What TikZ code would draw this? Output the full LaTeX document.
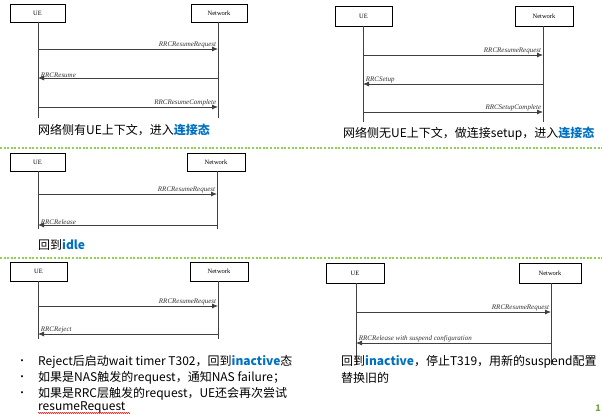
\documentclass[tikz,border=0pt]{standalone}
\usepackage{fontspec}
\newfontfamily\cjk{Noto Sans CJK SC}
\newfontfamily\tms{Liberation Serif}
\usetikzlibrary{arrows.meta,decorations.pathmorphing}
\definecolor{hl}{RGB}{0,112,192}
\definecolor{grn}{RGB}{146,208,80}
\begin{document}
\begin{tikzpicture}[x=1pt,y=-1pt,
 ent/.style={draw,line width=0.6pt,minimum height=18pt,inner sep=0pt,font=\tms\fontsize{6.5}{7}\selectfont},
 life/.style={line width=0.8pt,black!75},
 msg/.style={line width=0.8pt,black!75,-{Latex[length=6pt,width=5pt]}},
 ml/.style={font=\tms\fontsize{7}{8}\selectfont\itshape,inner sep=0.5pt,text=black!80},
 mr/.style={ml,pos=1,anchor=south east,xshift=-1pt},
 mlft/.style={ml,pos=1,anchor=south west,xshift=2pt},
 txt/.style={font=\cjk\fontsize{12}{13}\selectfont,anchor=west,inner sep=0pt},
 sep/.style={grn,line width=2pt,dash pattern=on 2pt off 1.6pt}]
\useasboundingbox (0,0) rectangle (602,413);
\newcommand\hb[1]{\textcolor{hl}{\bfseries #1}}
% panel 1
\node[ent,minimum width=55pt] (ue1) at (37.5,13) {UE};
\node[ent,minimum width=56pt] (nw1) at (219,13) {Network};
\coordinate (ue1e) at (38,118); \coordinate (nw1e) at (218,118);
\draw[life] (38,22) -- (ue1e); \draw[life] (218,22) -- (nw1e);
\coordinate (a1) at (38,49); \coordinate (b1) at (218,49);
\coordinate (a2) at (38,78); \coordinate (b2) at (218,78);
\coordinate (a3) at (38,107); \coordinate (b3) at (218,107);
\draw[msg] (a1) -- node[mr]{RRCResumeRequest} (b1);
\draw[msg] (b2) -- node[mlft]{RRCResume} (a2);
\draw[msg] (a3) -- node[mr]{RRCResumeComplete} (b3);
\node[txt] (t1) at (38,130) {网络侧有UE上下文，进入\hb{连接态}};
% panel 2
\node[ent,minimum width=57pt,minimum height=20pt] (ue2) at (363.5,16) {UE};
\node[ent,minimum width=58pt,minimum height=20pt] (nw2) at (544,16) {Network};
\coordinate (ue2e) at (363,122); \coordinate (nw2e) at (543,122);
\draw[life] (363,26) -- (ue2e); \draw[life] (543,26) -- (nw2e);
\coordinate (c1) at (363,55); \coordinate (d1) at (543,55);
\coordinate (c2) at (363,84); \coordinate (d2) at (543,84);
\coordinate (c3) at (363,112); \coordinate (d3) at (543,112);
\draw[msg] (c1) -- node[mr]{RRCResumeRequest} (d1);
\draw[msg] (d2) -- node[mlft]{RRCSetup} (c2);
\draw[msg] (c3) -- node[mr]{RRCSetupComplete} (d3);
\node[txt] (t2) at (343,134) {网络侧无UE上下文，做连接setup，进入\hb{连接态}};
\draw[sep] (0,148) -- (602,148);
% panel 3
\node[ent,minimum width=55pt] (ue3) at (37.5,162) {UE};
\node[ent,minimum width=58pt] (nw3) at (216,162) {Network};
\coordinate (ue3e) at (38,229); \coordinate (nw3e) at (217,229);
\draw[life] (38,171) -- (ue3e); \draw[life] (217,171) -- (nw3e);
\coordinate (e1) at (38,194); \coordinate (f1) at (217,194);
\coordinate (e2) at (38,225); \coordinate (f2) at (217,225);
\draw[msg] (e1) -- node[mr]{RRCResumeRequest} (f1);
\draw[msg] (f2) -- node[mlft]{RRCRelease} (e2);
\node[txt] (t3) at (38,245) {回到\hb{idle}};
\draw[sep] (0,258) -- (602,258);
% panel 4
\node[ent,minimum width=57pt,minimum height=19pt] (ue4) at (38.5,271.5) {UE};
\node[ent,minimum width=58pt,minimum height=19pt] (nw4) at (219,271.5) {Network};
\coordinate (ue4e) at (38,339); \coordinate (nw4e) at (218,339);
\draw[life] (38,281) -- (ue4e); \draw[life] (218,281) -- (nw4e);
\coordinate (g1) at (38,306); \coordinate (h1) at (218,306);
\coordinate (g2) at (38,334); \coordinate (h2) at (218,334);
\draw[msg] (g1) -- node[mr]{RRCResumeRequest} (h1);
\draw[msg] (h2) -- node[mlft]{RRCReject} (g2);
\foreach \yy/\tt [count=\i] in {362/{Reject后启动wait timer T302，回到\hb{inactive}态},378/{如果是NAS触发的request，通知NAS failure；},394/{如果是RRC层触发的request，UE还会再次尝试}}{
 \node[txt] (bl\i) at (38,\yy) {\tt};
 \node[font=\cjk\fontsize{10}{10}\selectfont,inner sep=0pt] (bd\i) at (22,\yy) {•};
}
\node[txt] (bl4) at (38,407) {resumeRequest};
\draw[red,line width=0.4pt,decorate,decoration={zigzag,amplitude=0.6pt,segment length=2pt}] (38,413) -- (130,413);
% panel 5
\node[ent,minimum width=58pt,minimum height=20pt] (ue5) at (355,273) {UE};
\node[ent,minimum width=62pt,minimum height=20pt] (nw5) at (550,273) {Network};
\coordinate (ue5e) at (356,365); \coordinate (nw5e) at (551,365);
\draw[life] (356,283) -- (ue5e); \draw[life] (551,283) -- (nw5e);
\coordinate (p1) at (356,312); \coordinate (q1) at (551,312);
\coordinate (p2) at (356,343); \coordinate (q2) at (551,343);
\draw[msg] (p1) -- node[mr]{RRCResumeRequest} (q1);
\draw[msg] (q2) -- node[mlft]{RRCRelease with suspend configuration} (p2);
\node[txt] (t5) at (341,362) {回到\hb{inactive}，停止T319，用新的suspend配置};
\node[txt] (t6) at (341,378) {替换旧的};
\node[font=\cjk\bfseries\fontsize{9}{10}\selectfont,text=grn!80!black,inner sep=0pt] (pg) at (598,408) {1};
\end{tikzpicture}
\end{document}
